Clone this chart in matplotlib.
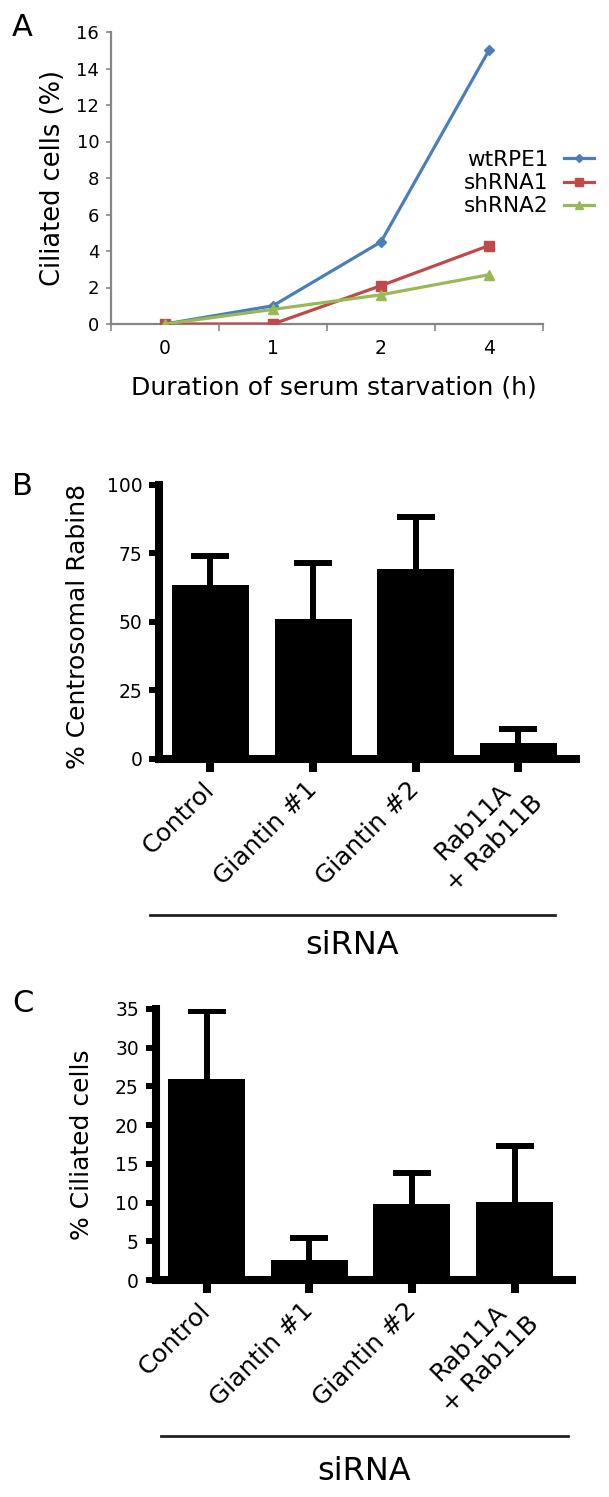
import matplotlib
matplotlib.use('Agg')
import matplotlib.pyplot as plt
from matplotlib.transforms import ScaledTranslation
import numpy as np

plt.rcParams['font.family'] = ['DejaVu Sans']

# ---------------- data ----------------
hours = ['0', '1', '2', '4']
wtRPE1 = [0.0, 1.0, 4.5, 15.0]
shRNA1 = [0.0, 0.0, 2.1, 4.3]
shRNA2 = [0.0, 0.8, 1.6, 2.7]

conditions = ['Control', 'Giantin #1', 'Giantin #2', 'Rab11A\n+ Rab11B']
rabin8_mean = [63.5, 51.0, 69.5, 6.0]
rabin8_err = [10.5, 20.5, 19.0, 4.8]
cilia_mean = [25.9, 2.6, 9.8, 10.1]
cilia_err = [8.9, 2.8, 4.0, 7.2]

# ---------------- figure ----------------
W, H = 609, 1497
fig = plt.figure(figsize=(W / 100, H / 100), dpi=100)


def add_ax(left, top, right, bottom):
    return fig.add_axes([left / W, 1 - bottom / H, (right - left) / W, (bottom - top) / H])


def ftext(x, y, s, **kw):
    fig.text(x / W, 1 - y / H, s, **kw)


# ---------------- Panel A ----------------
gray = '#868686'
axA = add_ax(111, 32, 543, 324)
xa = np.arange(len(hours))
axA.plot(xa, wtRPE1, color='#4A7EBB', lw=2.3, marker='D', ms=5.5, label='wtRPE1', zorder=3)
axA.plot(xa, shRNA1, color='#BE4B48', lw=2.3, marker='s', ms=7, label='shRNA1', zorder=3)
axA.plot(xa, shRNA2, color='#98B954', lw=2.3, marker='^', ms=7.5, label='shRNA2', zorder=3)
axA.set_xlim(-0.5, 3.5)
axA.set_ylim(0, 16)
for s in ['top', 'right']:
    axA.spines[s].set_visible(False)
for s in ['left', 'bottom']:
    axA.spines[s].set_color(gray)
    axA.spines[s].set_linewidth(1.6)
axA.set_yticks(np.arange(0, 17, 2))
axA.tick_params(axis='y', direction='out', length=3.5, width=1.2, color=gray, pad=5, labelsize=13)
axA.set_xticks(xa)
axA.set_xticklabels(hours)
axA.set_xticks(np.arange(-0.5, 3.6, 1.0), minor=True)
axA.tick_params(axis='x', which='major', length=0, pad=11, labelsize=13.5)
axA.tick_params(axis='x', which='minor', direction='out', length=5, width=1.2, color=gray)
axA.legend(loc='upper left', bbox_to_anchor=(464 / W, 1 - 150 / H), bbox_transform=fig.transFigure,
           frameon=False, markerfirst=False, handlelength=1.4, handletextpad=0.7,
           labelspacing=0.15, fontsize=15.5, borderpad=0, borderaxespad=0, markerscale=0.75)
ftext(334, 388, 'Duration of serum starvation (h)', ha='center', va='center', fontsize=18)
ftext(53, 178, 'Ciliated cells (%)', ha='center', va='center', rotation=90, fontsize=18.5)
ftext(22, 27, 'A', ha='center', va='center', fontsize=22)


# ---------------- Bar panels ----------------
def bar_panel(ax, means, errs, ymax, ystep):
    xb = np.arange(len(conditions))
    tops = np.add(means, errs)
    ax.bar(xb, means, width=0.75, color='black', zorder=2)
    ax.vlines(xb, means, tops, color='black', lw=4.3, zorder=1)
    ax.hlines(tops, xb - 0.185, xb + 0.185, color='black', lw=4.3, zorder=1)
    ax.set_xlim(-0.5, 3.56)
    ax.set_ylim(0, ymax)
    for s in ['top', 'right']:
        ax.spines[s].set_visible(False)
    for s in ['left', 'bottom']:
        ax.spines[s].set_linewidth(5.8)
        ax.spines[s].set_color('black')
    ax.set_yticks(np.arange(0, ymax + 0.1, ystep))
    ax.tick_params(axis='y', direction='out', length=7, width=4.3, pad=5, labelsize=13.5)
    ax.set_xticks(xb)
    labels = ax.set_xticklabels(conditions, rotation=45, ha='right', va='center',
                                rotation_mode='anchor', fontsize=18, multialignment='center',
                                linespacing=1.35)
    ax.tick_params(axis='x', direction='out', length=9.4, width=5.8, pad=10)
    # the two-line label sits a little further right in the original
    last = labels[-1]
    last.set_transform(last.get_transform() + ScaledTranslation(0.10, -0.02, fig.dpi_scale_trans))


axB = add_ax(159, 485, 576, 759)
bar_panel(axB, rabin8_mean, rabin8_err, 100, 25)
fig.add_artist(plt.Line2D([150 / W, 555 / W], [1 - 915 / H, 1 - 915 / H], color='#222222', lw=2))
ftext(352, 945, 'siRNA', ha='center', va='center', fontsize=23)
ftext(78, 626, '% Centrosomal Rabin8', ha='center', va='center', rotation=90, fontsize=18)
ftext(22, 487, 'B', ha='center', va='center', fontsize=22)

axC = add_ax(155.5, 1009, 572, 1280)
bar_panel(axC, cilia_mean, cilia_err, 35, 5)
fig.add_artist(plt.Line2D([161 / W, 568 / W], [1 - 1436 / H, 1 - 1436 / H], color='#222222', lw=2))
ftext(364, 1472, 'siRNA', ha='center', va='center', fontsize=23)
ftext(82, 1145, '% Ciliated cells', ha='center', va='center', rotation=90, fontsize=18)
ftext(23, 1003, 'C', ha='center', va='center', fontsize=22)

fig.savefig('out.png', dpi=100, facecolor='white')
